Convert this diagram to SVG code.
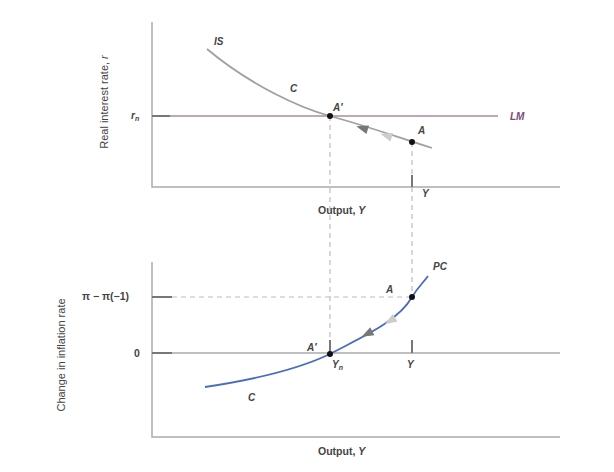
<svg xmlns="http://www.w3.org/2000/svg" width="614" height="472" viewBox="0 0 614 472">
<style>
.ax{stroke:#aaa;stroke-width:1.5;fill:none}
.tick{stroke:#777;stroke-width:2}
.dash{stroke:#bbb;stroke-width:1.2;stroke-dasharray:5,4;fill:none}
.lbl{font-family:"Liberation Sans",Arial,sans-serif;font-weight:bold;font-style:italic;font-size:10px;fill:#444}
.out{font-family:"Liberation Sans",Arial,sans-serif;font-weight:bold;font-size:10.5px;fill:#444}
.yt{font-family:"Liberation Sans",Arial,sans-serif;font-size:11px;fill:#444}
.dot{fill:#111}
</style>
<defs>
<polygon id="tri" points="-6,0 6,-4.5 6,4.5"/>
</defs>
<rect width="614" height="472" fill="#fff"/>
<g id="axes">
<polyline class="ax" points="152,22 152,187 560,187"/>
<polyline class="ax" points="152,262 152,437 560,437"/>
<line class="ax" x1="152" y1="353" x2="560" y2="353"/>
</g>
<g id="connectors">
<line class="dash" x1="330" y1="116" x2="330" y2="354"/>
<line class="dash" x1="412" y1="142" x2="412" y2="297"/>
<line class="dash" x1="172" y1="297" x2="412" y2="297"/>
<line class="tick" x1="152" y1="297" x2="172" y2="297"/>
<line class="tick" x1="152" y1="353" x2="172" y2="353"/>
<line class="tick" x1="412" y1="175" x2="412" y2="187"/>
<line class="tick" x1="412" y1="340" x2="412" y2="353"/>
<line class="tick" x1="330" y1="340" x2="330" y2="353"/>
</g>
<g id="LM">
<line x1="152" y1="116" x2="498" y2="116" stroke="#a88aa0" stroke-width="1.6"/>
<line x1="152" y1="116" x2="170" y2="116" stroke="#777" stroke-width="2"/>
<text x="510" y="120" class="lbl" style="fill:#7a4a7a">LM</text>
<text x="131" y="119" class="lbl" font-weight="normal">r<tspan font-size="7" dy="2">n</tspan></text>
</g>
<g id="IS">
<path d="M207,49 C250,85 300,108 330,116 C370,127 400,138 432,148" stroke="#a0a0a0" stroke-width="1.8" fill="none"/>
<use href="#tri" fill="#777" transform="translate(362,128) rotate(17)"/>
<use href="#tri" fill="#ccc" transform="translate(386,135.5) rotate(17)"/>
<text x="214" y="45" class="lbl">IS</text>
<text x="290" y="92" class="lbl">C</text>
<text x="333" y="111" class="lbl">A′</text>
<text x="418" y="134" class="lbl">A</text>
<circle class="dot" cx="330" cy="116" r="3"/>
<circle class="dot" cx="412" cy="142" r="3"/>
<text x="422" y="197" class="lbl">Y</text>
<text x="318" y="214" class="out">Output, <tspan font-style="italic">Y</tspan></text>
</g>
<g id="PC">
<path d="M205,387 C265,378 305,366 330,354 C360,338 398,322 412,297 C418,287 423,283 428,276" stroke="#4a6cc0" stroke-width="1.8" fill="none"/>
<use href="#tri" fill="#ccc" transform="translate(390,321) rotate(-33)"/>
<use href="#tri" fill="#777" transform="translate(367,334) rotate(-28)"/>
<text x="433" y="270" class="lbl">PC</text>
<text x="386" y="293" class="lbl">A</text>
<text x="307" y="351" class="lbl">A′</text>
<text x="332" y="368" class="lbl">Y<tspan font-size="7" dy="2">n</tspan></text>
<text x="407" y="368" class="lbl">Y</text>
<text x="248" y="401" class="lbl">C</text>
<circle class="dot" cx="330" cy="354" r="3"/>
<circle class="dot" cx="412" cy="297" r="3"/>
<text x="82" y="300" class="out">π − π(−1)</text>
<text x="134" y="357" class="out">0</text>
<text x="318" y="455" class="out">Output, <tspan font-style="italic">Y</tspan></text>
</g>
<g id="ytitles">
<text class="yt" transform="translate(108,102) rotate(-90)" text-anchor="middle" font-size="11">Real interest rate, <tspan font-style="italic">r</tspan></text>
<text class="yt" transform="translate(65,355) rotate(-90)" text-anchor="middle" font-size="11">Change in inflation rate</text>
</g>
</svg>
